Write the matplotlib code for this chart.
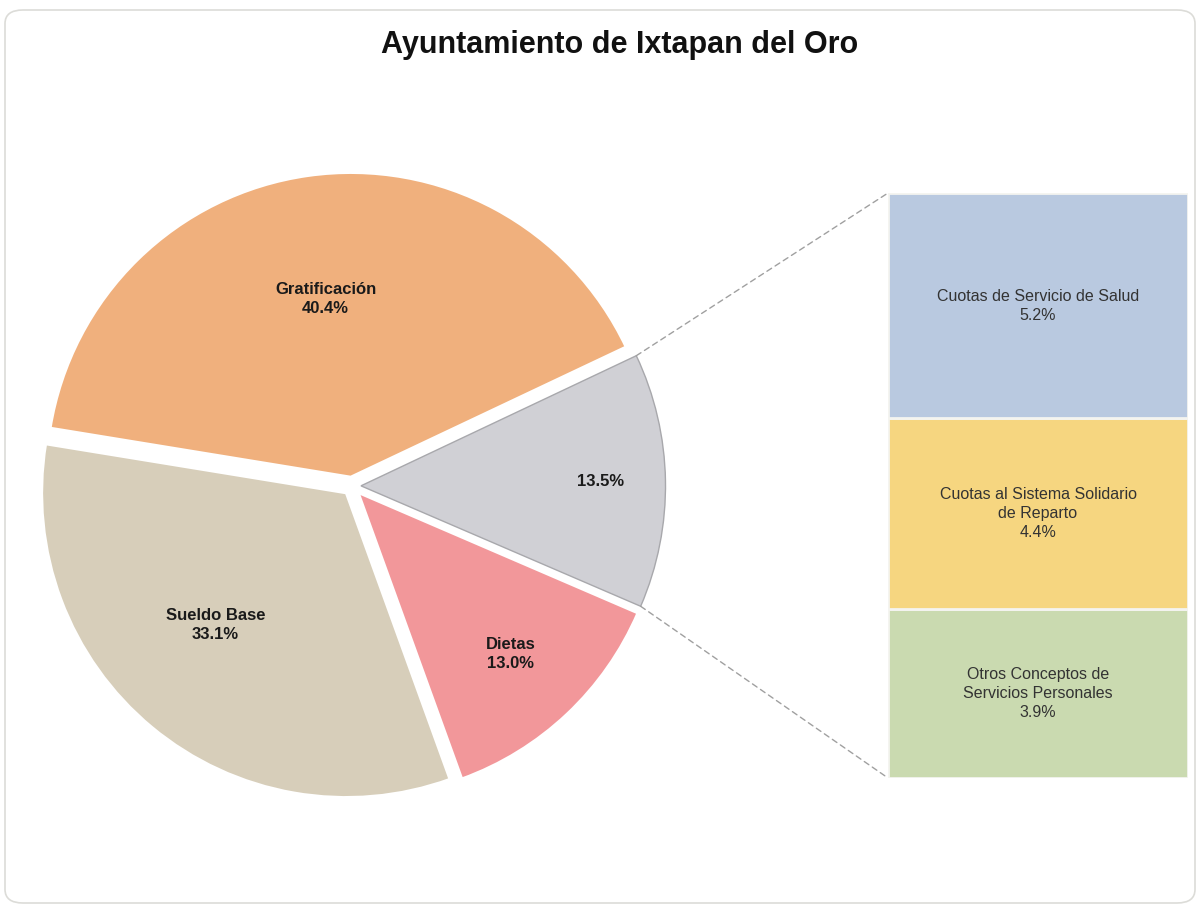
import numpy as np
import matplotlib
matplotlib.use("Agg")
import matplotlib.pyplot as plt
from matplotlib.patches import FancyBboxPatch, ConnectionPatch

plt.rcParams['font.family'] = ['Liberation Sans', 'DejaVu Sans']

# pie data (counterclockwise from the grouped slice)
pie_labels = ["", "Gratificación", "Sueldo Base", "Dietas"]
pie_values = [13.5, 40.4, 33.1, 13.0]
pie_colors = ["#D0D0D5", "#F0B07D", "#D7CEBA", "#F2979A"]
label_dist = [0.80, 0.60, 0.62, 0.74]
label_turn = [0, 0, -5, 0]   # degrees, nudges label off the bisector

# bar data (bottom to top)
bar_labels = ["Otros Conceptos de\nServicios Personales",
              "Cuotas al Sistema Solidario\nde Reparto",
              "Cuotas de Servicio de Salud"]
bar_values = [3.9, 4.4, 5.2]
bar_colors = ["#CADAB0", "#F6D680", "#B9C9E0"]

W, H = 1198, 907
fig = plt.figure(figsize=(W / 100, H / 100), dpi=100)
fig.patch.set_facecolor("white")

# outer frame
frame = FancyBboxPatch((5 / W, 4 / H), 1190 / W, 893 / H,
                       boxstyle="round,pad=0,rounding_size=0.015",
                       transform=fig.transFigure, facecolor="none",
                       edgecolor="#DCDCD8", linewidth=1.2, zorder=-1)
fig.patches.append(frame)

fig.text(620 / W, 1 - 45 / H, "Ayuntamiento de Ixtapan del Oro", ha="center",
         va="center", fontsize=22, fontweight="bold", color="#111111")

# pie axes: 660 px square centred at (352, 486)
cx, cy, half = 352, 486, 330
ax_pie = fig.add_axes([(cx - half) / W, (H - cy - half) / H, 2 * half / W, 2 * half / H])

start = -23.3
wedges, _ = ax_pie.pie(pie_values, colors=pie_colors, startangle=start,
                       counterclock=True, explode=[0.03] * 4, radius=1.015,
                       wedgeprops=dict(edgecolor="white", linewidth=2.0))
wedges[0].set_edgecolor("#A8A8AC")
wedges[0].set_linewidth(1.0)
ax_pie.set_xlim(-1.1, 1.1)
ax_pie.set_ylim(-1.1, 1.1)
ax_pie.axis("off")

total = sum(pie_values)
for w, lab, val, d, t in zip(wedges, pie_labels, pie_values, label_dist, label_turn):
    mid = np.deg2rad((w.theta1 + w.theta2) / 2 + t)
    x = w.center[0] + d * np.cos(mid)
    y = w.center[1] + d * np.sin(mid)
    txt = f"{val / total * 100:.1f}%"
    if lab:
        txt = lab + "\n" + txt
    ax_pie.text(x, y, txt, ha="center", va="center", fontsize=12,
                fontweight="bold", color="#1A1A1A", linespacing=1.3)

# bar axes
bx0, bx1, by0, by1 = 888, 1188, 193, 778
ax_bar = fig.add_axes([bx0 / W, (H - by1) / H, (bx1 - bx0) / W, (by1 - by0) / H])
bottoms = np.concatenate([[0], np.cumsum(bar_values)[:-1]])
ax_bar.bar([0] * len(bar_values), bar_values, bottom=bottoms, width=1.0,
           color=bar_colors, edgecolor="#F4F4F0", linewidth=2.0)
ax_bar.set_xlim(-0.5, 0.5)
ax_bar.set_ylim(0, sum(bar_values))
ax_bar.axis("off")
for lab, val, b in zip(bar_labels, bar_values, bottoms):
    ax_bar.text(0, b + val / 2, f"{lab}\n{val:.1f}%", ha="center", va="center",
                fontsize=11.5, color="#333333", linespacing=1.35)

# connector lines from the grouped slice to the bar
g = wedges[0]
for ang, yb in [(g.theta2, 1.0), (g.theta1, 0.0)]:
    a = np.deg2rad(ang)
    p = (g.center[0] + g.r * np.cos(a), g.center[1] + g.r * np.sin(a))
    con = ConnectionPatch(xyA=p, coordsA=ax_pie.transData, xyB=(0, yb),
                          coordsB=ax_bar.transAxes, color="#A0A0A0",
                          linestyle=(0, (4, 3)), linewidth=1.0)
    fig.add_artist(con)

fig.savefig("out.png", dpi=100)
